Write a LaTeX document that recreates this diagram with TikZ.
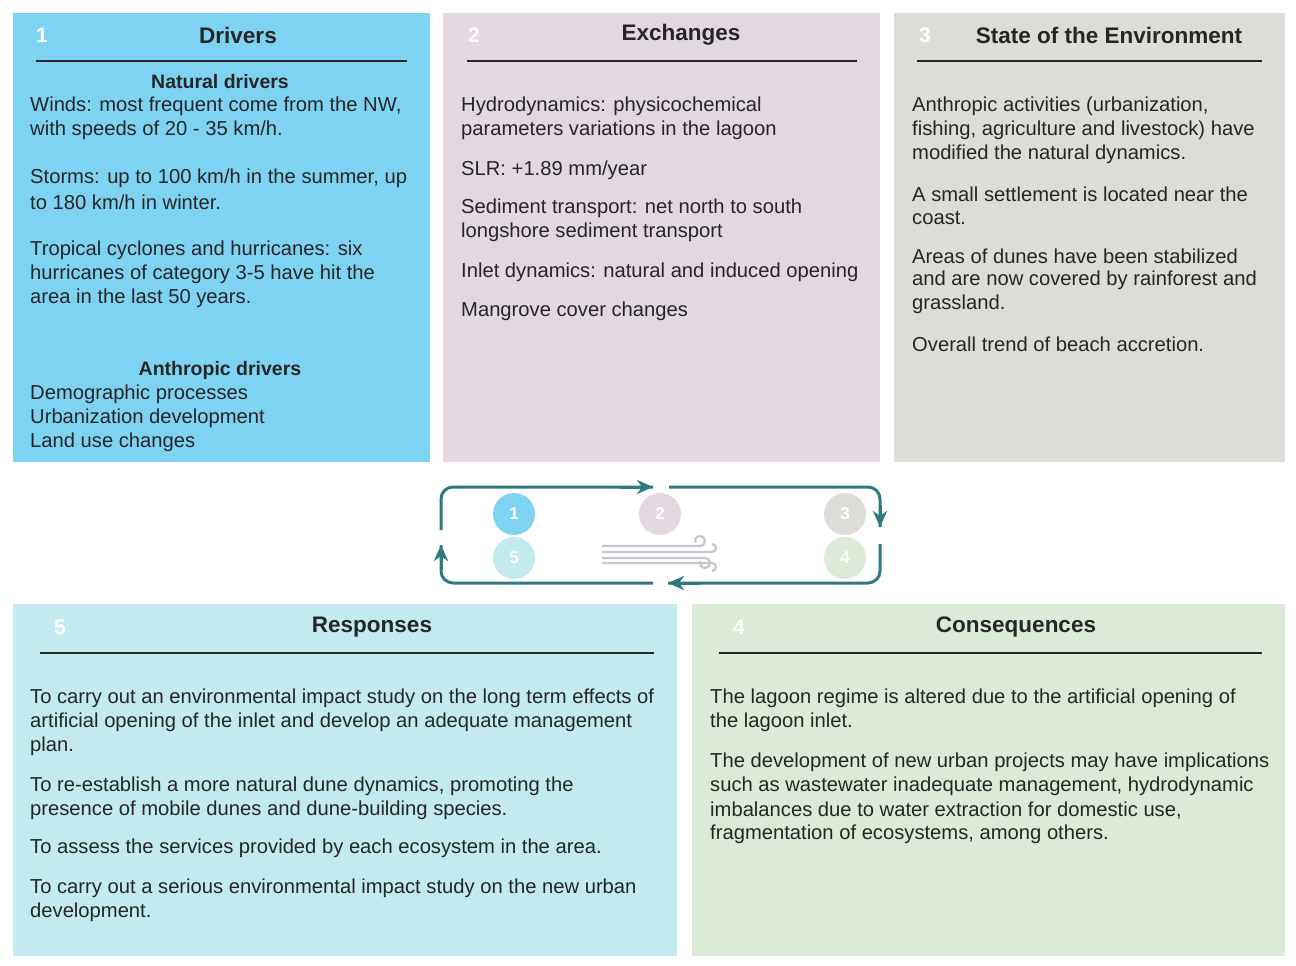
\documentclass[tikz,border=0pt]{standalone}
\usepackage{fontspec}
\setmainfont{Liberation Sans}
\usetikzlibrary{arrows.meta}
\definecolor{cA}{HTML}{7FD3F2}
\definecolor{cB}{HTML}{E3D8E1}
\definecolor{cC}{HTML}{DDDCD6}
\definecolor{cD}{HTML}{DCEBD8}
\definecolor{cE}{HTML}{C3EAEE}
\definecolor{teal}{HTML}{2E7A80}
\definecolor{wind}{HTML}{C4C8CE}
\begin{document}
\begin{tikzpicture}[x=1pt,y=-1pt,
  ttl/.style={font=\fontsize{22.5}{26}\selectfont\bfseries,text=black!85},
  num/.style={font=\fontsize{21}{24}\selectfont\bfseries,text=white},
  sub/.style={font=\fontsize{19.5}{22}\selectfont\bfseries,text=black!85},
  txt/.style={anchor=west,inner sep=0pt,font=\fontsize{20.2}{22}\selectfont,text=black!85},
  rule/.style={line width=1.6pt,black!85},
  cyc/.style={line width=3pt,teal,rounded corners=12pt},
  tip/.style={line width=3pt,teal,-{Stealth[length=16pt,width=14pt,inset=5pt]}},
  circ/.style={circle,minimum size=42pt,inner sep=0pt,text=white,font=\fontsize{17}{18}\selectfont\bfseries}]
\useasboundingbox (0,0) rectangle (1296,966);
\fill[white] (0,0) rectangle (1296,966);
% boxes
\fill[cA] (13,13) rectangle (430,462);
\fill[cB] (443,13) rectangle (880,462);
\fill[cC] (894,13) rectangle (1285,462);
\fill[cE] (13,604) rectangle (677,956);
\fill[cD] (692,604) rectangle (1285,956);
% titles
\node[num] (n1) at (42,35) {1};
\node[ttl] (t1) at (238,35) {Drivers};
\draw[rule] (36,61) -- (407,61);
\node[num] (n2) at (474,35) {2};
\node[ttl] (t2) at (681,35) {Exchanges};
\draw[rule] (467,61) -- (857,61);
\node[num] (n3) at (925,35) {3};
\node[ttl] (t3) at (1109,35) {State of the Environment};
\draw[rule] (917,61) -- (1262,61);
\node[num] (n5) at (60,627) {5};
\node[ttl] (t5) at (372,627) {Responses};
\draw[rule] (40,653) -- (654,653);
\node[num] (n4) at (739,627) {4};
\node[ttl] (t4) at (1016,627) {Consequences};
\draw[rule] (719,653) -- (1262,653);
% box 1
\node[sub] (s1) at (220,82) {Natural drivers};
\node[txt] (a1) at (30,106) {Winds: most frequent come from the NW,};
\node[txt] (a2) at (30,130) {with speeds of 20 - 35 km/h.};
\node[txt] (a3) at (30,178) {Storms: up to 100 km/h in the summer, up};
\node[txt] (a4) at (30,202) {to 180 km/h in winter.};
\node[txt] (a5) at (30,250) {Tropical cyclones and hurricanes: six};
\node[txt] (a6) at (30,274) {hurricanes of category 3-5 have hit the};
\node[txt] (a7) at (30,298) {area in the last 50 years.};
\node[sub] (s2) at (220,370) {Anthropic drivers};
\node[txt] (a8) at (30,394) {Demographic processes};
\node[txt] (a9) at (30,418) {Urbanization development};
\node[txt] (a10) at (30,442) {Land use changes};
% box 2
\node[txt] (b1) at (461,106) {Hydrodynamics: physicochemical};
\node[txt] (b2) at (461,130) {parameters variations in the lagoon};
\node[txt] (b3) at (461,170) {SLR: +1.89 mm/year};
\node[txt] (b4) at (461,208) {Sediment transport: net north to south};
\node[txt] (b5) at (461,232) {longshore sediment transport};
\node[txt] (b6) at (461,272) {Inlet dynamics: natural and induced opening};
\node[txt] (b7) at (461,311) {Mangrove cover changes};
% box 3
\node[txt] (c1) at (912,106) {Anthropic activities (urbanization,};
\node[txt] (c2) at (912,130) {fishing, agriculture and livestock) have};
\node[txt] (c3) at (912,154) {modified the natural dynamics.};
\node[txt] (c4) at (912,194) {A small settlement is located near the};
\node[txt] (c5) at (912,218) {coast.};
\node[txt] (c6) at (912,256) {Areas of dunes have been stabilized};
\node[txt] (c7) at (912,280) {and are now covered by rainforest and};
\node[txt] (c8) at (912,304) {grassland.};
\node[txt] (c9) at (912,344) {Overall trend of beach accretion.};
% box 5
\node[txt] (e1) at (30,698) {To carry out an environmental impact study on the long term effects of};
\node[txt] (e2) at (30,722) {artificial opening of the inlet and develop an adequate management};
\node[txt] (e3) at (30,746) {plan.};
\node[txt] (e4) at (30,786) {To re-establish a more natural dune dynamics, promoting the};
\node[txt] (e5) at (30,810) {presence of mobile dunes and dune-building species.};
\node[txt] (e6) at (30,848) {To assess the services provided by each ecosystem in the area.};
\node[txt] (e7) at (30,888) {To carry out a serious environmental impact study on the new urban};
\node[txt] (e8) at (30,912) {development.};
% box 4
\node[txt] (d1) at (710,698) {The lagoon regime is altered due to the artificial opening of};
\node[txt] (d2) at (710,722) {the lagoon inlet.};
\node[txt] (d3) at (710,762) {The development of new urban projects may have implications};
\node[txt] (d4) at (710,786) {such as wastewater inadequate management, hydrodynamic};
\node[txt] (d5) at (710,810) {imbalances due to water extraction for domestic use,};
\node[txt] (d6) at (710,834) {fragmentation of ecosystems, among others.};
% cycle
\node[circ,fill=cA] (k1) at (514,514) {1};
\node[circ,fill=cB] (k2) at (660,514) {2};
\node[circ,fill=cC] (k3) at (845,514) {3};
\node[circ,fill=cE] (k5) at (514,558) {5};
\node[circ,fill=cD] (k4) at (845,558) {4};
\coordinate (p1) at (441,530);
\coordinate (p2) at (653,487);
\coordinate (p3) at (669,487);
\coordinate (p4) at (880,527);
\coordinate (p5) at (880,544);
\coordinate (p6) at (668,583);
\coordinate (p7) at (653,583);
\coordinate (p8) at (441,545);
\draw[cyc] (p1) -- (441,487) -- (p2);
\draw[tip] (620,487) -- (p2);
\draw[cyc] (p3) -- (880,487) -- (p4);
\draw[tip] (880,505) -- (p4);
\draw[cyc] (p5) -- (880,583) -- (p6);
\draw[tip] (700,583) -- (p6);
\draw[cyc] (p7) -- (441,583) -- (p8);
\draw[tip] (441,570) -- (p8);
% wind icon
\begin{scope}[wind,line width=2.2pt]
\draw (602,546) -- (700,546) arc[start angle=90,end angle=-200,radius=5];
\draw (602,552) -- (712,552) arc[start angle=90,end angle=-90,radius=4];
\draw (602,558) -- (705,558) arc[start angle=-90,end angle=200,radius=5];
\draw (602,563) -- (712,563) arc[start angle=-90,end angle=90,radius=4];
\end{scope}
\end{tikzpicture}
\end{document}
